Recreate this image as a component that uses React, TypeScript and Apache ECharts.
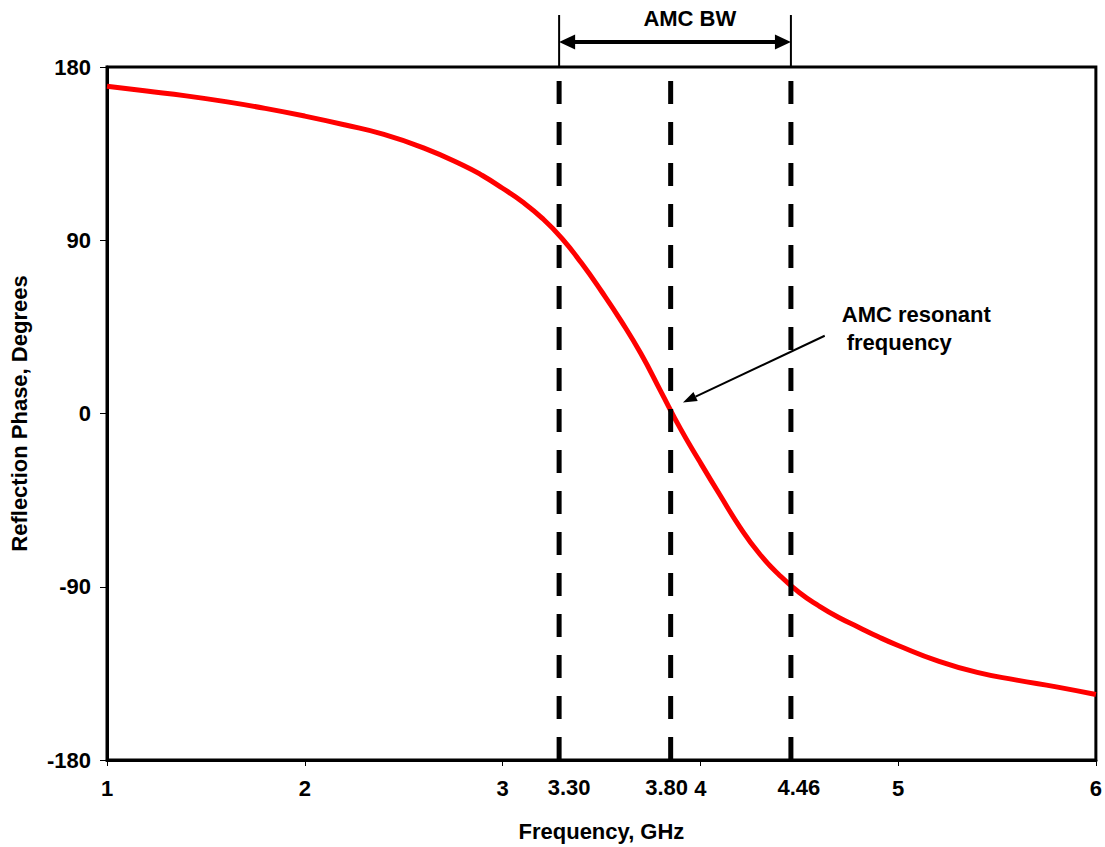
import { useEffect, useRef } from 'react';
import * as echarts from 'echarts';

const frequencyGHz = [1.0, 1.2, 1.4, 1.6, 1.8, 2.0, 2.2, 2.4, 2.6, 2.8, 2.9, 3.0, 3.1, 3.2, 3.3, 3.4, 3.5, 3.6, 3.7, 3.8, 3.9, 4.0, 4.1, 4.2, 4.3, 4.4, 4.5, 4.6, 4.7, 4.8, 4.9, 5.0, 5.2, 5.4, 5.6, 5.8, 6.0];
const phaseDeg = [170, 167.5, 165, 162, 158.5, 154.5, 150, 145, 138, 129, 123.5, 117, 110, 101.5, 91, 78, 63.5, 48, 31, 11.5, -8, -25.5, -42.5, -59, -73, -84, -93, -100, -106, -111, -116, -120.5, -128.5, -134.5, -138.5, -142, -146];

const markerFreqs = [3.286, 3.85, 4.458];
const markerLabels = ['3.30', '3.80', '4.46'];
const markerLabelShift = [10, -4, 8];

const xMin = 1, xMax = 6, xStep = 1;
const yMin = -180, yMax = 180, yStep = 90;

const FONT = '"Liberation Sans", Arial, sans-serif';
const FS = 22;

export default function App() {
  const ref = useRef<HTMLDivElement>(null);
  useEffect(() => {
    if (!ref.current) return;
    const chart = echarts.init(ref.current, null, { renderer: 'svg' });
    const labelStyle = { color: '#000', fontWeight: 'bold' as const, fontSize: FS, fontFamily: FONT };
    const series: any[] = [
      {
        type: 'line',
        data: frequencyGHz.map((f, i) => [f, phaseDeg[i]]),
        smooth: 0.5,
        showSymbol: false,
        symbol: 'none',
        lineStyle: { color: '#FF0000', width: 5 },
        z: 2,
      },
      ...markerFreqs.map((f) => ({
        type: 'line',
        data: [[f, yMin], [f, yMax]],
        showSymbol: false,
        symbol: 'none',
        lineStyle: { color: '#000', width: 5, type: [23, 18] },
        z: 3,
      })),
    ];
    chart.setOption({
      animation: false,
      backgroundColor: '#fff',
      grid: { left: 107, right: 8, top: 67, bottom: 86, show: true, borderColor: '#000', borderWidth: 3 },
      xAxis: {
        type: 'value', min: xMin, max: xMax, interval: xStep,
        name: 'Frequency, GHz', nameLocation: 'middle', nameGap: 60,
        nameTextStyle: labelStyle,
        axisLine: { show: true, onZero: false, lineStyle: { color: '#000', width: 3 } },
        axisTick: { show: true, length: 6, lineStyle: { color: '#000', width: 1 } },
        axisLabel: { ...labelStyle, margin: 17 },
        splitLine: { show: false },
      },
      yAxis: {
        type: 'value', min: yMin, max: yMax, interval: yStep,
        name: 'Reflection Phase, Degrees', nameLocation: 'middle', nameGap: 77,
        nameTextStyle: labelStyle,
        axisLine: { show: true, onZero: false, lineStyle: { color: '#000', width: 3 } },
        axisTick: { show: true, length: 7, lineStyle: { color: '#000', width: 1 } },
        axisLabel: { ...labelStyle, margin: 16 },
        splitLine: { show: false },
      },
      series,
    });

    const px = (x: number, y: number) => chart.convertToPixel({ gridIndex: 0 }, [x, y]) as number[];
    const head = (tip: number[], from: number[], len: number, half: number) => {
      const dx = tip[0] - from[0], dy = tip[1] - from[1];
      const d = Math.hypot(dx, dy);
      const ux = dx / d, uy = dy / d;
      const bx = tip[0] - ux * len, by = tip[1] - uy * len;
      return [tip, [bx - uy * half, by + ux * half], [bx + uy * half, by - ux * half]];
    };
    const txt = (x: number, y: number, text: string, align: string) => ({
      type: 'text', x, y, z: 10,
      style: { text, font: `bold ${FS}px ${FONT}`, fill: '#000', align, verticalAlign: 'middle', textAlign: align, textVerticalAlign: 'middle' },
    });
    const graphic: any[] = [];
    [markerFreqs[0], markerFreqs[2]].forEach((f) => {
      const a = px(f, yMax), b = px(f, 207);
      graphic.push({ type: 'line', shape: { x1: a[0], y1: a[1], x2: b[0], y2: b[1] }, style: { stroke: '#000', lineWidth: 2 }, z: 10 });
    });
    const bwL = px(markerFreqs[0], 193), bwR = px(markerFreqs[2], 193);
    graphic.push({ type: 'line', shape: { x1: bwL[0] + 8, y1: bwL[1], x2: bwR[0] - 8, y2: bwR[1] }, style: { stroke: '#000', lineWidth: 4 }, z: 10 });
    graphic.push({ type: 'polygon', shape: { points: head(bwL, bwR, 16, 7.5) }, style: { fill: '#000' }, z: 10 });
    graphic.push({ type: 'polygon', shape: { points: head(bwR, bwL, 16, 7.5) }, style: { fill: '#000' }, z: 10 });
    const bwText = px(3.947, 205.4);
    graphic.push(txt(bwText[0], bwText[1], 'AMC BW', 'center'));
    const rFrom = px(4.629, 40.4), rTip = px(3.912, 5.7);
    const h = head(rTip, rFrom, 14, 5);
    graphic.push({ type: 'line', shape: { x1: rFrom[0], y1: rFrom[1], x2: (h[1][0] + h[2][0]) / 2, y2: (h[1][1] + h[2][1]) / 2 }, style: { stroke: '#000', lineWidth: 2 }, z: 10 });
    graphic.push({ type: 'polygon', shape: { points: h }, style: { fill: '#000' }, z: 10 });
    const t1 = px(4.715, 51.5), t2 = px(4.74, 37);
    graphic.push(txt(t1[0], t1[1], 'AMC resonant', 'left'));
    graphic.push(txt(t2[0], t2[1], 'frequency', 'left'));
    markerFreqs.forEach((f, i) => {
      const p = px(f, yMin);
      graphic.push(txt(p[0] + markerLabelShift[i], p[1] + 27, markerLabels[i], 'center'));
    });
    chart.setOption({ graphic });
    return () => chart.dispose();
  }, []);
  return <div ref={ref} style={{ position: 'absolute', left: 0, top: 0, width: 1105, height: 847 }} />;
}
